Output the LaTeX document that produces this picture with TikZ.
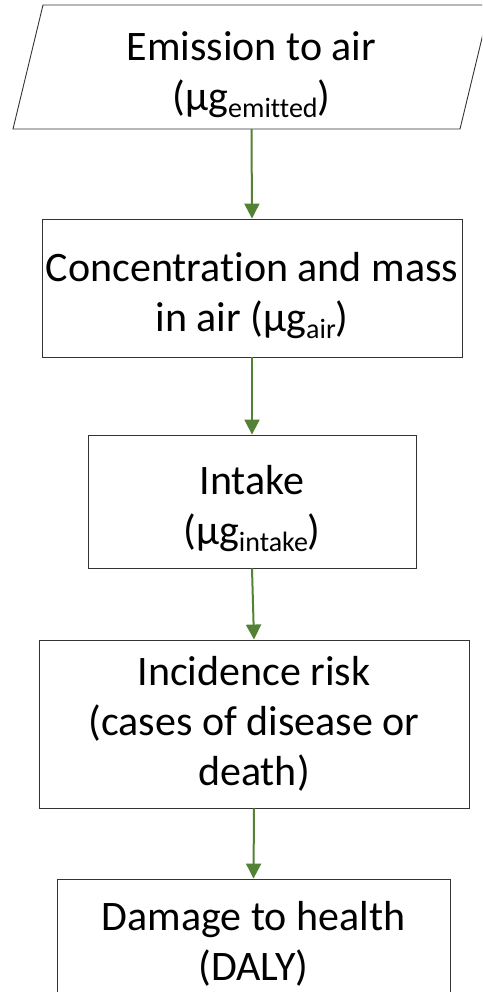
\documentclass[tikz,border=0pt]{standalone}
\usepackage{fontspec}
\setmainfont{Carlito}[Ligatures=NoCommon]
\usetikzlibrary{arrows.meta}
\definecolor{flowgreen}{HTML}{548235}
\newcommand{\ugsub}[1]{µg\raisebox{-0.35ex}{\fontsize{28}{28}\selectfont #1}}
\newcommand{\topgap}[1]{\rule{0pt}{#1}}

\begin{document}
\begin{tikzpicture}[x=1pt,y=-1pt,>={Triangle[length=15pt,width=15pt]},
  every node/.style={font=\fontsize{42}{50}\selectfont,align=center,inner sep=0pt},
  stage/.style={draw=black!80,line width=0.9pt,fill=white},
  flow/.style={->,draw=flowgreen,line width=2pt}]
  \useasboundingbox (0,0) rectangle (482,992);
  \clip (0,0) rectangle (482,992);
  % input parallelogram
  \draw[stage] (43,5) -- (490,5) -- (460,129) -- (13,129) -- cycle;
  \node[minimum width=447pt,minimum height=124pt] (emis) at (251.5,67) {\topgap{44pt}Emission to air\\(\ugsub{emitted})};
  \node[stage,minimum width=420pt,minimum height=138pt] (conc) at (252,288) {\topgap{44pt}Concentration and mass\\in air (\ugsub{air})};
  \node[stage,minimum width=328pt,minimum height=133pt] (intk) at (252,501.5) {\topgap{44pt}Intake\\(\ugsub{intake})};
  \node[stage,minimum width=430pt,minimum height=168pt] (risk) at (254,724) {Incidence risk\\(cases of disease or\\death)};
  \node[stage,minimum width=393pt,minimum height=122pt] (daly) at (253.5,940) {\topgap{36pt}Damage to health\\(DALY)};
  \draw[flow] (emis.south) -- (conc.north);
  \draw[flow] (conc.south) -- (intk.north);
  \draw[flow] (intk.south) -- (risk.north);
  \draw[flow] (risk.south) -- (daly.north);
\end{tikzpicture}
\end{document}
